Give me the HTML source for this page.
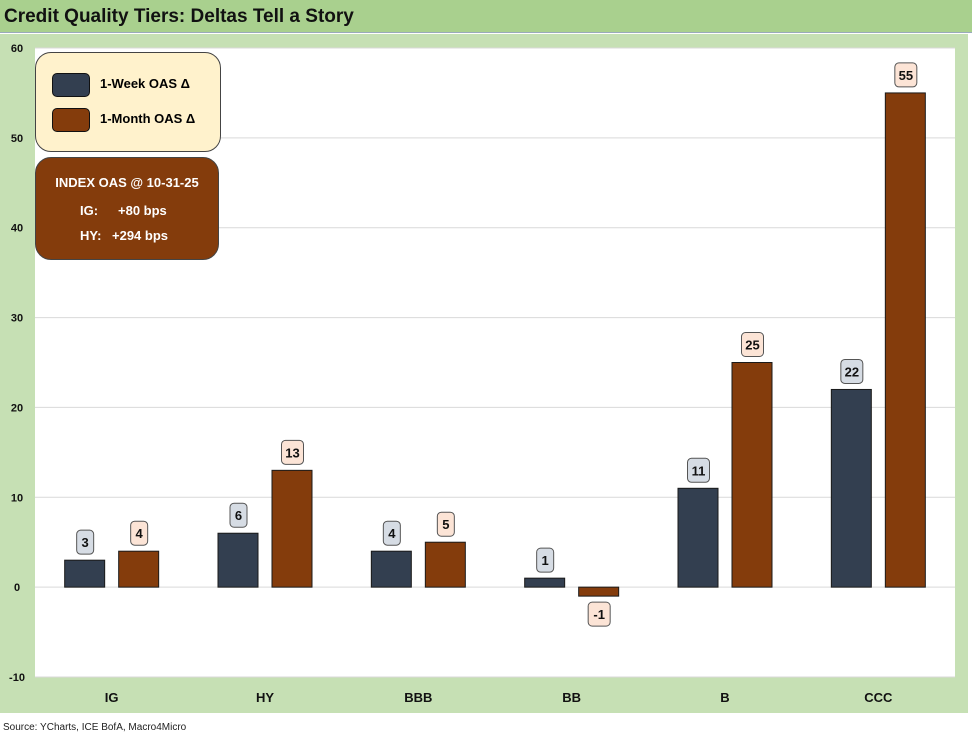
<!DOCTYPE html>
<html><head><meta charset="utf-8">
<style>
body{margin:0;width:972px;height:737px;background:#fff;font-family:"Liberation Sans",sans-serif;position:relative;overflow:hidden}
#title{position:absolute;left:0;top:0;width:972px;height:33px;background:#a9d08e;border-bottom:1px solid #9ab;font-weight:bold;font-size:19px;line-height:33px;padding-left:4px;box-sizing:border-box;color:#111}
#panel{position:absolute;left:0;top:34px;width:968px;height:679px;background:#c6e0b4}
#src{position:absolute;left:3px;top:722px;font-size:10px;color:#222}
</style></head><body>
<div id="title">Credit Quality Tiers: Deltas Tell a Story</div>
<div id="panel"></div>
<div id="src">Source: YCharts, ICE BofA, Macro4Micro</div>
<svg id="chart" width="972" height="737" style="position:absolute;left:0;top:0"></svg>
<script>
const categories=["IG","HY","BBB","BB","B","CCC"];
const weekValues=[3,6,4,1,11,22];
const monthValues=[4,13,5,-1,25,55];
const yTicks=[-10,0,10,20,30,40,50,60];
const NS="http://www.w3.org/2000/svg";
const svg=document.getElementById('chart');
const L=35,R=955,T=48,B=677,yMin=-10,yMax=60;
const y=v=>T+(yMax-v)*(B-T)/(yMax-yMin);
const band=(R-L)/categories.length;
const xc=i=>L+band*(i+0.5);
function mk(t,a,txt){const e=document.createElementNS(NS,t);for(const k in a)e.setAttribute(k,a[k]);if(txt!==undefined)e.textContent=txt;svg.appendChild(e);return e;}
const plot=mk('rect',{x:L,y:T,width:R-L,height:B-T,fill:'#fff'});


yTicks.forEach(t=>{
 const g=mk('line',{x1:L,x2:R,y1:y(t),y2:y(t),stroke:'#d9d9d9','stroke-width':1});
 
 
 const lb=mk('text',{x:17,y:y(t)+4,'text-anchor':'middle','font-size':11,'font-weight':'bold',fill:'#111'},t);
 
 
});
function bar(i,v,off,fill,lblFill,name){
 const x=xc(i)+off-20,y0=y(0),yv=y(v);
 const r=mk('rect',{x:x,y:Math.min(y0,yv),width:40,height:Math.abs(y0-yv),fill:fill,stroke:'#1a1a1a','stroke-width':1});
 
 
 const w=String(v).length>1?22:17;
 const by=v>=0?yv-30:yv+6;
 const bx=mk('rect',{x:x+20.5-w/2,y:by,width:w,height:24,rx:4,fill:lblFill,stroke:'#555','stroke-width':1});
 
 
 const tx=mk('text',{x:x+20.5,y:by+17,'text-anchor':'middle','font-size':13,'font-weight':'bold',fill:'#111'},v);
 
 
}
categories.forEach((c,i)=>{
 bar(i,weekValues[i],-27,'#333f50','#d6dce4','week');
 bar(i,monthValues[i],27,'#843c0c','#fce4d6','month');
 const t=mk('text',{x:xc(i),y:702,'text-anchor':'middle','font-size':13,'font-weight':'bold',fill:'#111'},c);
 
 
});
</script>
<div style="position:absolute;left:35px;top:52px;width:186px;height:100px;background:#fff2cc;border:1px solid #444;border-radius:16px;box-sizing:border-box">
 <div style="position:absolute;left:16px;top:19px;font-size:13px;font-weight:bold;line-height:24px"><span style="display:inline-block;width:36px;height:22px;background:#333f50;border:1.5px solid #111;border-radius:5px;vertical-align:middle;margin-right:10px"></span>1-Week OAS Δ</div>
 <div style="position:absolute;left:16px;top:54px;font-size:13px;font-weight:bold;line-height:24px"><span style="display:inline-block;width:36px;height:22px;background:#843c0c;border:1.5px solid #111;border-radius:5px;vertical-align:middle;margin-right:10px"></span>1-Month OAS Δ</div>
</div>
<div style="position:absolute;left:35px;top:157px;width:184px;height:103px;background:#843c0c;border:1px solid #444;border-radius:16px;box-sizing:border-box;color:#fff;font-weight:bold;font-size:13px">
 <div style="position:absolute;left:0;width:100%;text-align:center;top:17px">INDEX OAS @ 10-31-25</div>
 <div style="position:absolute;left:44px;top:45px">IG:</div><div style="position:absolute;left:82px;top:45px">+80 bps</div>
 <div style="position:absolute;left:44px;top:70px">HY:</div><div style="position:absolute;left:76px;top:70px">+294 bps</div>
</div>
</body></html>
